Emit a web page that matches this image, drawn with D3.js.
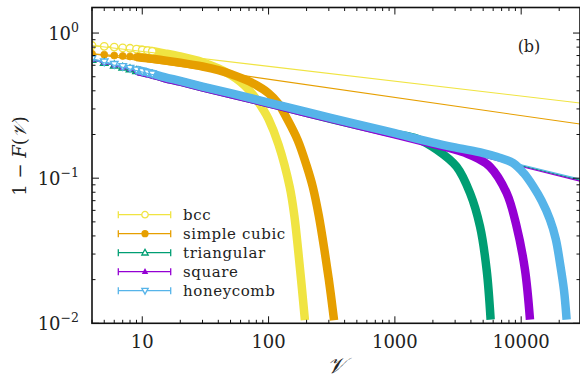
<!DOCTYPE html>
<html><head><meta charset="utf-8">
<script src="https://cdn.jsdelivr.net/npm/d3@7"></script>
<style>
html,body{margin:0;padding:0;background:#fff;}
svg{display:block;}
text{font-family:"DejaVu Serif","Liberation Serif","Noto Serif","Times New Roman",Times,serif;fill:#222;}
</style></head><body>
<svg id="c" width="580" height="377"></svg>
<script>
// ---------- data ----------
const seriesNames  = ["bcc", "simple cubic", "triangular", "square", "honeycomb"];
const seriesColors = ["#F0E442", "#E69F00", "#009E73", "#9400D3", "#56B4E9"];

const bccNu  = [4,5,6,7,8,9,10,11,12,15,20,30,40,50,60,70,80,90,100,120,147,160,172,183,194];
const bccVal = [0.82,0.81,0.80,0.79,0.785,0.775,0.765,0.757,0.75,0.725,0.69,0.63,0.57,0.515,0.46,0.405,0.35,0.30,0.255,0.17,0.087,0.055,0.031,0.018,0.0105];

const scNu  = [4,5,6,7,8,9,10,11,12,15,20,30,40,50,70,100,120,139,170,200,224,250,279,300,315,330];
const scVal = [0.72,0.71,0.70,0.695,0.69,0.683,0.676,0.67,0.664,0.648,0.625,0.588,0.555,0.522,0.465,0.385,0.325,0.26,0.183,0.122,0.087,0.055,0.0306,0.02,0.0145,0.0105];

const triNu  = [4,5,6,7,8,9,10,11,12,15,20,30,50,100,200,500,1000,1496,2150,3080,3935,4720,5330,5730];
const triVal = [0.655,0.625,0.60,0.58,0.565,0.55,0.538,0.527,0.518,0.49,0.462,0.423,0.38,0.328,0.282,0.232,0.202,0.187,0.157,0.12,0.079,0.0465,0.0233,0.0106];

const sqNu  = [4,5,6,7,8,9,10,11,12,15,20,30,50,100,200,500,1000,2000,3000,3700,4500,5660,7670,9200,10720,11740];
const sqVal = [0.655,0.625,0.60,0.58,0.565,0.55,0.538,0.527,0.518,0.49,0.462,0.423,0.38,0.328,0.282,0.232,0.20,0.172,0.157,0.148,0.137,0.12,0.079,0.0465,0.0233,0.0106];

const honNu  = [4,5,6,7,8,9,10,11,12,15,20,30,50,100,200,500,1000,2000,3000,5010,6500,8650,10500,12470,14500,16900,18800,20300,21800,22900];
const honVal = [0.665,0.635,0.61,0.59,0.574,0.559,0.546,0.535,0.525,0.497,0.468,0.428,0.385,0.332,0.286,0.236,0.204,0.176,0.163,0.149,0.14,0.127,0.108,0.0876,0.07,0.0518,0.038,0.0259,0.017,0.0106];

// power-law fit lines: value at the two ends of the axis
const fitNu  = [4, 29220];
const bccFit = [0.82, 0.33];
const scFit  = [0.72, 0.236];
const triFit = [0.655, 0.097];
const sqFit  = [0.655, 0.0954];
const honFit = [0.655, 0.0985];

const xTickValues = [10, 100, 1000, 10000];
const xTickLabels = ["10", "100", "1000", "10000"];
const yTickValues = [1, 0.1, 0.01];
const yTickExps   = ["0", "\u22121", "\u22122"];

// ---------- chart ----------
const svg = d3.select("#c");
const L = 92, R = 580, T = 7.5, B = 323.3;
const x = d3.scaleLog().domain([4, 29220]).range([L, R]);
const y = d3.scaleLog().domain([0.01, 1.5]).range([B, T]);

const series = [
  {nu: bccNu, v: bccVal, fit: bccFit, sym: "circle",   open: true,  size: 7.5},
  {nu: scNu,  v: scVal,  fit: scFit,  sym: "circle",   open: false, size: 7},
  {nu: triNu, v: triVal, fit: triFit, sym: "triUp",    open: true,  size: 7.5},
  {nu: sqNu,  v: sqVal,  fit: sqFit,  sym: "triUp",    open: false, size: 5},
  {nu: honNu, v: honVal, fit: honFit, sym: "triDown",  open: true,  size: 7.5},
];

const defs = svg.append("defs");
defs.append("clipPath").attr("id","clip").append("rect")
  .attr("x", L).attr("y", T).attr("width", R - L).attr("height", B - T + 5);

const plot = svg.append("g").attr("clip-path","url(#clip)");

function markerPath(sym, s) {
  if (sym === "circle") return d3.symbol(d3.symbolCircle, Math.PI * (s/2)*(s/2))();
  const h = s * 0.9, w = s;
  if (sym === "triUp") return `M0,${-h*0.6}L${w/2},${h*0.4}L${-w/2},${h*0.4}Z`;
  return `M0,${h*0.6}L${w/2},${-h*0.4}L${-w/2},${-h*0.4}Z`;
}

const line = d3.line().x(d => x(d[0])).y(d => y(d[1])).curve(d3.curveMonotoneX);
const lineBand = d3.line().x(d => x(d[0])).y(d => y(d[1])).curve(d3.curveCatmullRom.alpha(0.5));

series.forEach((s, i) => {
  const col = seriesColors[i];
  const pts = s.nu.map((n, k) => [n, s.v[k]]);
  const bandPts = pts.filter(p => p[0] >= 9);
  plot.append("path").attr("d", lineBand(bandPts))
    .attr("fill","none").attr("stroke", col).attr("stroke-width", 8.5)
    .attr("stroke-linejoin","round").attr("stroke-linecap","butt");
  const mk = pts.filter(p => p[0] <= 12);
  plot.append("path").attr("d", line(mk)).attr("fill","none").attr("stroke",col).attr("stroke-width",1.2);
  plot.selectAll(null).data(mk).enter().append("path")
    .attr("d", markerPath(s.sym, s.size))
    .attr("transform", d => `translate(${x(d[0])},${y(d[1])})`)
    .attr("fill", s.open ? "#fff" : col)
    .attr("stroke", col).attr("stroke-width", s.open ? 1.4 : 0.8);
  plot.append("line")
    .attr("x1", x(fitNu[0])).attr("y1", y(s.fit[0]))
    .attr("x2", x(fitNu[1])).attr("y2", y(s.fit[1]))
    .attr("stroke", col).attr("stroke-width", 1.1);
});

// ---------- axes (ticks inward, mirrored) ----------
const ax = svg.append("g").attr("stroke","#111").attr("fill","none");
const xMinor = [], yMinor = [];
[1,10,100,1000,10000].forEach(d => { for (let k = 2; k <= 9; k++) { const v = d*k; if (v >= 4 && v <= 29220) xMinor.push(v); } });
[0.01,0.1,1].forEach(d => { for (let k = 2; k <= 9; k++) { const v = d*k; if (v <= 1.5) yMinor.push(v); } });

xTickValues.forEach(v => {
  ax.append("line").attr("x1",x(v)).attr("x2",x(v)).attr("y1",B).attr("y2",B-7);
  ax.append("line").attr("x1",x(v)).attr("x2",x(v)).attr("y1",T).attr("y2",T+7);
});
xMinor.forEach(v => {
  ax.append("line").attr("x1",x(v)).attr("x2",x(v)).attr("y1",B).attr("y2",B-3.5);
  ax.append("line").attr("x1",x(v)).attr("x2",x(v)).attr("y1",T).attr("y2",T+3.5);
});
yTickValues.forEach(v => {
  ax.append("line").attr("y1",y(v)).attr("y2",y(v)).attr("x1",L).attr("x2",L+7);
  ax.append("line").attr("y1",y(v)).attr("y2",y(v)).attr("x1",R).attr("x2",R-7);
});
yMinor.forEach(v => {
  ax.append("line").attr("y1",y(v)).attr("y2",y(v)).attr("x1",L).attr("x2",L+3.5);
  ax.append("line").attr("y1",y(v)).attr("y2",y(v)).attr("x1",R).attr("x2",R-3.5);
});
ax.append("rect").attr("x",L).attr("y",T).attr("width",R-L).attr("height",B-T).attr("stroke-width",1.6);

// tick labels
xTickValues.forEach((v, i) => {
  svg.append("text").attr("x", x(v)).attr("y", 348).attr("text-anchor","middle")
    .attr("font-size", 18).text(xTickLabels[i]);
});
yTickValues.forEach((v, i) => {
  const t = svg.append("text").attr("x", 79).attr("y", y(v) + 7).attr("text-anchor","end").attr("font-size", 18);
  t.append("tspan").text("10");
  t.append("tspan").attr("dy", -8).attr("font-size", 12.5).text(yTickExps[i]);
});

// axis titles
svg.append("text").attr("x", 336).attr("y", 373).attr("text-anchor","middle")
  .attr("font-size", 22).attr("font-style","italic").text("\uD835\uDCB1");
const yl = svg.append("text").attr("transform","translate(26,156) rotate(-90)")
  .attr("text-anchor","middle").attr("font-size", 18);
yl.append("tspan").text("1 \u2212 ");
yl.append("tspan").attr("font-style","italic").text("F");
yl.append("tspan").text("(");
yl.append("tspan").attr("font-style","italic").text("\uD835\uDCB1");
yl.append("tspan").text(")");

svg.append("text").attr("x", 529).attr("y", 52).attr("text-anchor","middle").attr("font-size", 16).text("(b)");

// ---------- legend ----------
const legY0 = 214.7, legDy = 19;
series.forEach((s, i) => {
  const col = seriesColors[i];
  const yy = legY0 + i * legDy;
  const g = svg.append("g").attr("stroke", col).attr("stroke-width", 1.3);
  g.append("line").attr("x1",118.3).attr("x2",170.7).attr("y1",yy).attr("y2",yy);
  g.append("line").attr("x1",118.3).attr("x2",118.3).attr("y1",yy-3.5).attr("y2",yy+3.5);
  g.append("line").attr("x1",170.7).attr("x2",170.7).attr("y1",yy-3.5).attr("y2",yy+3.5);
  g.append("path").attr("d", markerPath(s.sym, s.size*0.85)).attr("transform",`translate(145,${yy})`)
    .attr("fill", s.open ? "#fff" : col);
  svg.append("text").attr("x", 183).attr("y", yy + 5).attr("font-size", 15)
    .attr("letter-spacing", 0.6).text(seriesNames[i]);
});
</script>
</body></html>
